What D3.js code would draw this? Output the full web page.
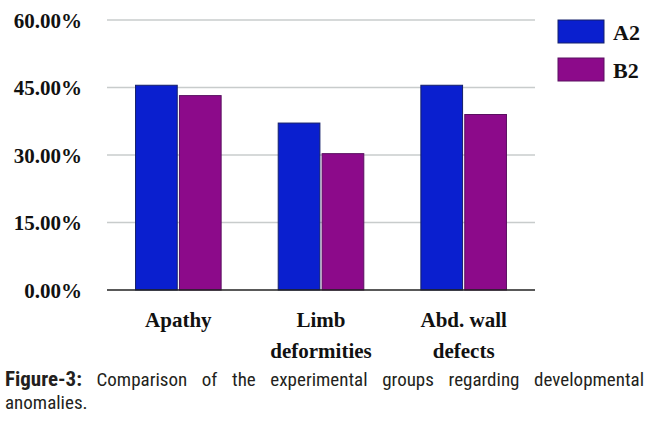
<!DOCTYPE html>
<html>
<head>
<meta charset="utf-8">
<script src="https://cdn.jsdelivr.net/npm/d3@7/dist/d3.min.js"></script>
<style>
  body { margin: 0; background: #fff; }
  svg { display: block; }
</style>
</head>
<body>
<svg id="chart" width="650" height="423"></svg>
<script>
'use strict';

const categories = [['Apathy'], ['Limb', 'deformities'], ['Abd. wall', 'defects']];
const seriesNames = ['A2', 'B2'];
const a2Values = [45.5, 37.1, 45.5];
const b2Values = [43.2, 30.3, 39.0];
const yTicks = [0, 15, 30, 45, 60];
const captionBold = 'Figure-3:';
const captionLine1 = 'Comparison of the experimental groups regarding developmental';
const captionLine2 = 'anomalies.';

const serifFont = 'Liberation Serif';
const capFont = 'Roboto Condensed';
const colors = { A2: '#0a1fcf', B2: '#8c0a8a' };
const edges = { A2: '#14206a', B2: '#5a1060' };

const svg = d3.select('#chart');
const margin = { left: 107, right: 535, top: 20, bottom: 290 };

const x0 = d3.scaleBand()
  .domain(d3.range(categories.length))
  .range([margin.left, margin.right])
  .paddingInner(0.4)
  .paddingOuter(0.2);

const x1 = d3.scaleBand()
  .domain(seriesNames)
  .range([0, x0.bandwidth()])
  .paddingInner(0.05);

const y = d3.scaleLinear()
  .domain([0, 60])
  .range([margin.bottom, margin.top]);

// gridlines
svg.append('g')
  .selectAll('line')
  .data(yTicks.filter(d => d > 0))
  .join('line')
  .attr('x1', margin.left)
  .attr('x2', margin.right)
  .attr('y1', d => y(d))
  .attr('y2', d => y(d))
  .attr('stroke', '#c8cccc')
  .attr('stroke-width', 1.5);

// y axis labels
const yAxis = d3.axisLeft(y)
  .tickValues(yTicks)
  .tickFormat(d => d.toFixed(2) + '%')
  .tickSize(0)
  .tickPadding(0);

svg.append('g')
  .attr('transform', 'translate(82,0)')
  .call(yAxis)
  .call(g => g.select('.domain').remove())
  .attr('font-family', serifFont)
  .attr('font-size', 21)
  .attr('font-weight', 'bold')
  .selectAll('text')
  .attr('fill', '#111')
  .attr('dy', '0.35em');

// bars
const rows = categories.map((c, i) => ({ i, A2: a2Values[i], B2: b2Values[i] }));
svg.append('g')
  .selectAll('g')
  .data(rows)
  .join('g')
  .attr('transform', d => `translate(${x0(d.i)},0)`)
  .selectAll('rect')
  .data(d => seriesNames.map(k => ({ key: k, value: d[k] })))
  .join('rect')
  .attr('x', d => x1(d.key))
  .attr('y', d => y(d.value))
  .attr('width', x1.bandwidth())
  .attr('height', d => y(0) - y(d.value))
  .attr('fill', d => colors[d.key])
  .attr('stroke', d => edges[d.key])
  .attr('stroke-width', 1);

// baseline
svg.append('line')
  .attr('x1', margin.left)
  .attr('x2', margin.right)
  .attr('y1', y(0))
  .attr('y2', y(0))
  .attr('stroke', '#222')
  .attr('stroke-width', 1.5);

// category labels
const catLabels = svg.append('g')
  .attr('font-family', serifFont)
  .attr('font-weight', 'bold')
  .attr('font-size', 21)
  .attr('fill', '#111')
  .selectAll('text')
  .data(categories)
  .join('text')
  .attr('x', (d, i) => x0(i) + x0.bandwidth() / 2)
  .attr('y', 327)
  .attr('text-anchor', 'middle');
catLabels.selectAll('tspan')
  .data(d => d)
  .join('tspan')
  .attr('x', function() { return d3.select(this.parentNode).attr('x'); })
  .attr('dy', (d, i) => i === 0 ? 0 : 31)
  .text(d => d);

// legend
const legend = svg.append('g')
  .selectAll('g')
  .data(seriesNames)
  .join('g')
  .attr('transform', (d, i) => `translate(558,${20 + i * 38})`);
legend.append('rect')
  .attr('width', 46)
  .attr('height', 23)
  .attr('fill', d => colors[d])
  .attr('stroke', d => edges[d]);
legend.append('text')
  .attr('x', 55)
  .attr('y', 20)
  .attr('font-family', serifFont)
  .attr('font-weight', 'bold')
  .attr('font-size', 22)
  .attr('fill', '#111')
  .text(d => d);

// caption, first line justified
const capSize = 19;
const capY1 = 386;
const capY2 = 409;
const capLeft = 5;
const capRight = 644;
const words = [captionBold].concat(captionLine1.split(' '));
const cap = svg.append('g')
  .attr('font-family', capFont)
  .attr('font-size', capSize)
  .attr('fill', '#231f20');
const wordNodes = cap.selectAll('text.w')
  .data(words)
  .join('text')
  .attr('class', 'w')
  .attr('y', capY1)
  .attr('font-weight', (d, i) => i === 0 ? 'bold' : 'normal')
  .attr('font-size', (d, i) => i === 0 ? 21 : capSize)
  .text(d => d);
const widths = wordNodes.nodes().map(n => n.getComputedTextLength());
const gap = (capRight - capLeft - d3.sum(widths)) / (words.length - 1);
let cx = capLeft;
wordNodes.attr('x', (d, i) => {
  const pos = cx;
  cx += widths[i] + gap;
  return pos;
});
cap.append('text')
  .attr('x', capLeft)
  .attr('y', capY2)
  .text(captionLine2);
</script>
</body>
</html>
